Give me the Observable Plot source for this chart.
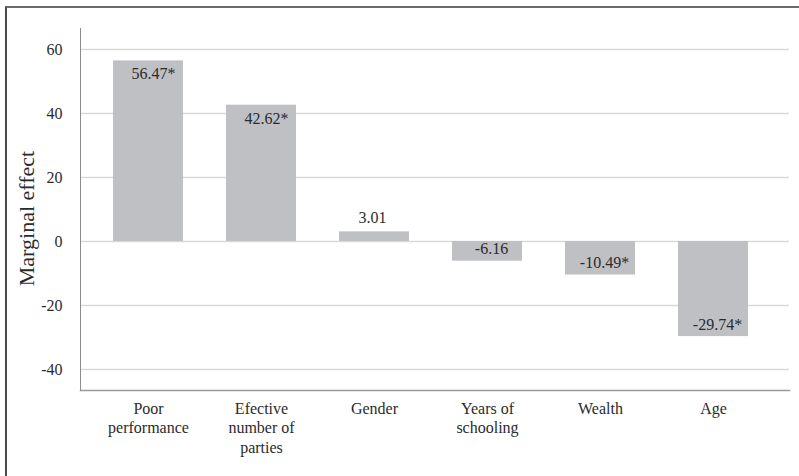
<!DOCTYPE html>
<html><head><meta charset="utf-8">
<script src="https://cdn.jsdelivr.net/npm/d3@7"></script>
<script src="https://cdn.jsdelivr.net/npm/@observablehq/plot@0.6"></script>
<style>
html,body{margin:0;padding:0;background:#fff;}
#wrap{position:relative;width:799px;height:476px;overflow:hidden;}
#border{position:absolute;left:5px;top:6px;width:820px;height:500px;border-top:2px solid #6b6b6b;border-left:2px solid #4a4a4a;}
#chart svg{display:block;}
#chart svg, #chart svg text, #chart svg g{font-family:"Liberation Serif","Times New Roman","DejaVu Serif",serif !important;}
</style></head><body>
<div id="wrap"><div id="chart"></div><div id="border"></div></div>
<script>
const categories = ["Poor performance", "Efective number of parties", "Gender", "Years of schooling", "Wealth", "Age"];
const tickLabels = ["Poor\nperformance", "Efective\nnumber of\nparties", "Gender", "Years of\nschooling", "Wealth", "Age"];
const values = [56.47, 42.62, 3.01, -6.16, -10.49, -29.74];
const significant = [true, true, false, false, true, true];
const yTicks = [-40, -20, 0, 20, 40, 60];
const yLabel = "Marginal effect";

const data = categories.map((c, i) => ({
  category: c,
  value: values[i],
  label: values[i].toFixed(2) + (significant[i] ? "*" : ""),
  sig: significant[i]
}));

const font = "Liberation Serif, Times New Roman, DejaVu Serif, serif";
const textColor = "#2b2b2b";

const posInside = data.filter(d => d.value > 10);
const posOutside = data.filter(d => d.value >= 0 && d.value <= 10);
const neg = data.filter(d => d.value < 0);

const chart = Plot.plot({
  width: 799,
  height: 476,
  marginLeft: 80,
  marginRight: 10,
  marginTop: 28,
  marginBottom: 86,
  style: {fontFamily: font, fontSize: "16px", color: textColor, background: "#fff"},
  x: {domain: categories, range: [91.4, 770.6], paddingInner: 0.38, paddingOuter: 0.19, label: null},
  y: {domain: [-46.6, 66.6], label: null},
  marks: [
    Plot.ruleY(yTicks, {stroke: "#d9d9d9", strokeWidth: 1.5}),
    Plot.barY(data, {x: "category", y: "value", fill: "#bfc0c4"}),
    Plot.frame({anchor: "bottom", stroke: "#9a9a9a", strokeWidth: 1.5}),
    Plot.frame({anchor: "left", stroke: "#8c8c8c", strokeWidth: 1}),
    Plot.axisY({ticks: yTicks, tickSize: 0, tickPadding: 18, tickFormat: d => String(d), fontSize: 16, fontFamily: font, fill: textColor, label: null}),
    Plot.axisX({tickSize: 0, tickPadding: 10, tickFormat: d => tickLabels[categories.indexOf(d)], lineHeight: 1.2, fontSize: 16, fontFamily: font, fill: textColor, label: null}),
    Plot.text(posInside, {x: "category", y: "value", text: "label", lineAnchor: "top", dy: 7, dx: 5, fontSize: 16, fontFamily: font, fill: textColor}),
    Plot.text(posOutside, {x: "category", y: "value", text: "label", lineAnchor: "bottom", dy: -9, dx: -2, fontSize: 16, fontFamily: font, fill: textColor}),
    Plot.text(neg, {x: "category", y: "value", text: "label", lineAnchor: "bottom", dy: -7, dx: 4, fontSize: 16, fontFamily: font, fill: textColor}),
    Plot.text([yLabel], {text: d => d, frameAnchor: "left", rotate: -90, dx: -47, dy: 9, lineAnchor: "bottom", textAnchor: "middle", fontSize: 22, fontFamily: font, fill: textColor})
  ]
});
document.getElementById("chart").appendChild(chart);
</script>
</body></html>
